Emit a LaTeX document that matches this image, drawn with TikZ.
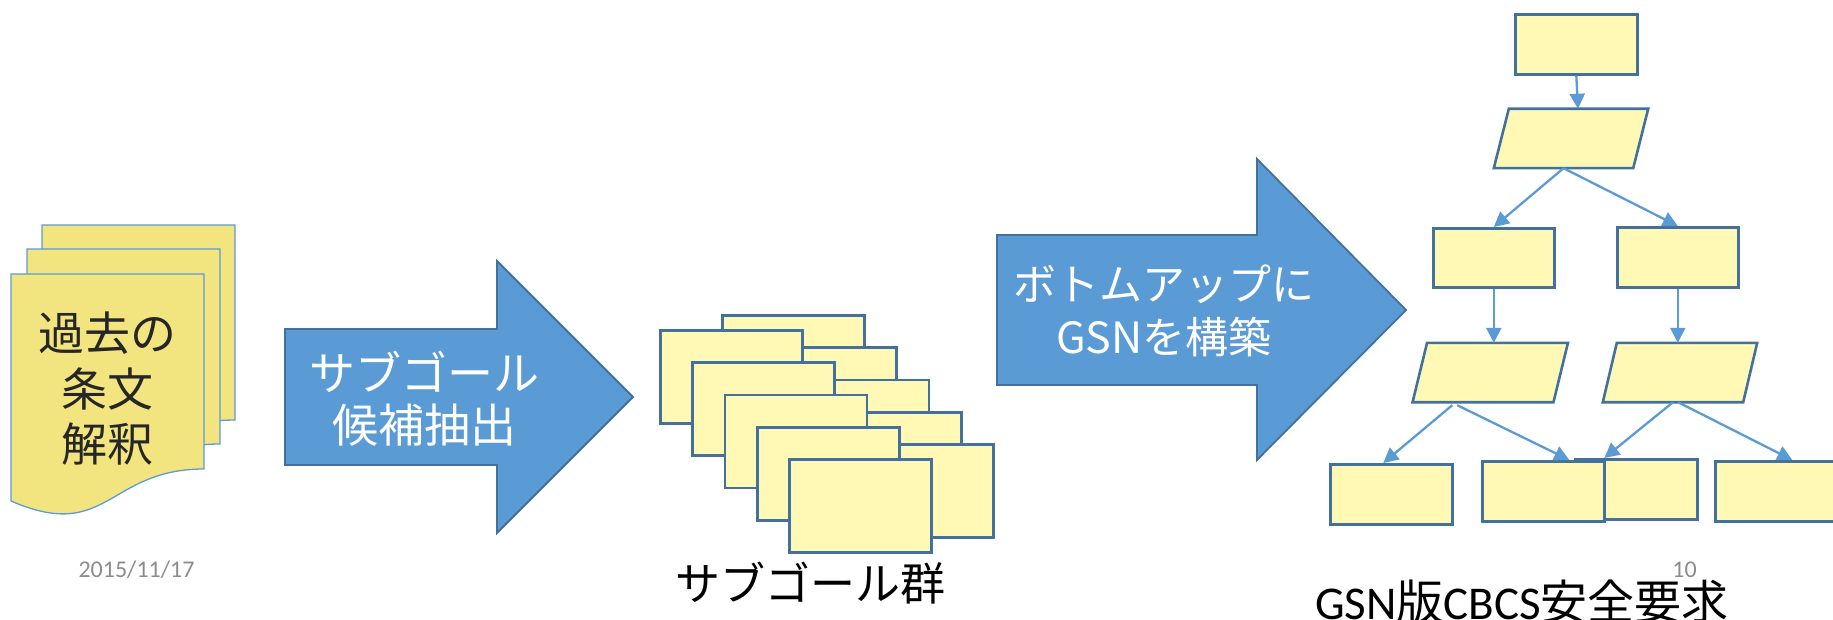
\documentclass[tikz,border=0pt]{standalone}
\usepackage{fontspec}
\newfontfamily\jpfont{Noto Sans CJK JP}
\newfontfamily\latfont{Carlito}
\usetikzlibrary{arrows.meta,calc}
\definecolor{accent}{HTML}{5B9BD5}
\definecolor{accentdk}{HTML}{41719C}
\definecolor{goalfill}{HTML}{FFF9B5}
\definecolor{docfill}{HTML}{F2E57F}
\definecolor{dategray}{HTML}{8C8C8C}
\definecolor{doctextc}{HTML}{262626}
\tikzset{
  docsheet/.style={fill=docfill,draw=accent,line width=1.3pt,line join=miter},
  bigarrow/.style={fill=accent,draw=accentdk,line width=1.8pt,line join=miter},
  goalbox/.style={rectangle,fill=goalfill,draw=accentdk,line width=2.6pt,inner sep=0pt,anchor=north west},
  paraslot/.style={rectangle,inner sep=0pt,minimum height=59pt},
  parashape/.style={fill=goalfill,draw=accentdk,line width=2.6pt,line join=miter},
  conn/.style={draw=accent,line width=2.3pt,-{Triangle[length=15pt,width=15pt]}},
  jptxt/.style={inner sep=0pt,align=center},
}
\newcommand\paranode[5]{% name, cx, cy, side, offset
  \node[paraslot,minimum width=#4pt] (#1) at (#2,#3) {};
  \path[parashape] ($(#1.north west)+(#5/2,0)$) -- ($(#1.north east)+(#5/2,0)$)
     -- ($(#1.south east)+(-#5/2,0)$) -- ($(#1.south west)+(-#5/2,0)$) -- cycle;
}
\begin{document}
\begin{tikzpicture}[x=1pt,y=-1pt]
\useasboundingbox (0,0) rectangle (1833,620);
\begin{scope}
\clip (0,0) rectangle (1833,620);

% ---- document stack ----
\path[docsheet] (42,225) -- (235,225) -- (235,420) .. controls (138.5,420) and (138.5,494) .. (42,452) -- cycle;
\path[docsheet] (27,249) -- (220,249) -- (220,444) .. controls (123.5,444) and (123.5,518) .. (27,476) -- cycle;
\path[docsheet] (11,274) -- (204,274) -- (204,469) .. controls (107.5,469) and (107.5,543) .. (11,501) -- cycle;
\node[jptxt,text=doctextc,font=\jpfont\fontsize{46pt}{55.5pt}\selectfont] (doctext) at (107,389) {過去の\\条文\\解釈};

% ---- arrow 1 ----
\path[bigarrow] (285,329) -- (497,329) -- (497,261) -- (633,397) -- (497,533) -- (497,465) -- (285,465) -- cycle;
\node[jptxt,text=white,font=\jpfont\fontsize{46pt}{52pt}\selectfont] (a1text) at (424,399) {サブゴール\\候補抽出};

% ---- sub-goal stack ----
\foreach \i in {0,...,4}{
  \node[goalbox,minimum width=142pt,minimum height=93pt] (sgr\i) at ({721+32.3*\i},{314+32.3*\i}) {};
}
\foreach \i in {0,...,4}{
  \node[goalbox,minimum width=142pt,minimum height=93pt] (sgl\i) at ({659+32.3*\i},{329+32.3*\i}) {};
}
\node[jptxt,font=\jpfont\fontsize{45pt}{50pt}\selectfont] (sgtext) at (810,583) {サブゴール群};

% ---- arrow 2 ----
\path[bigarrow] (997,235) -- (1257,235) -- (1257,159) -- (1406,310) -- (1257,460) -- (1257,385) -- (997,385) -- cycle;
\node[jptxt,text=white,font=\jpfont\fontsize{43pt}{53pt}\selectfont] (a2text) at (1164,311) {ボトムアップに\\GSNを構築};

% ---- GSN tree ----
\node[goalbox,minimum width=122pt,minimum height=60pt] (top) at (1514,13) {};
\paranode{p1}{1571}{138.5}{139}{15}
\node[goalbox,minimum width=121pt,minimum height=59pt] (l1) at (1432,227) {};
\node[goalbox,minimum width=121pt,minimum height=60pt] (r1) at (1616,226) {};
\paranode{l2}{1490.25}{372.5}{140.5}{14.5}
\paranode{r2}{1680}{372.5}{140}{14}
\node[goalbox,minimum width=122pt,minimum height=60pt] (b1) at (1329,463) {};
\node[goalbox,minimum width=122pt,minimum height=60pt] (b3) at (1574,458) {};
\node[goalbox,minimum width=122pt,minimum height=60pt] (b2) at (1481,460) {};
\node[goalbox,minimum width=124pt,minimum height=60pt] (b4) at (1714,460) {};

\draw[conn] (top.south) -- ($(p1.north)+(7,0)$);
\draw[conn] ($(p1.south)+(-7.5,0)$) -- (l1.north);
\draw[conn] ($(p1.south)+(-7.5,0)$) -- (r1.north);
\draw[conn] (l1.south) -- (l1.south |- l2.north);
\draw[conn] (r1.south) -- (r1.south |- r2.north);
\draw[conn] ($(l2.south)+(-38,3)$) -- ($(b1.north)+(-8,0)$);
\draw[conn] ($(l2.south)+(-33,3)$) -- ($(b2.north)+(26,0)$);
\draw[conn] ($(r2.south)+(-7,0)$) -- ($(b3.north)+(-32,0)$);
\draw[conn] ($(r2.south)+(-2,0)$) -- ($(b4.north)+(15,0)$);

% ---- captions ----
\node[inner sep=0pt,anchor=base,font=\fontsize{47pt}{50pt}\selectfont] (gsncap) at (1522,619)
  {\latfont GSN\jpfont 版\latfont CBCS\jpfont 安全要求};
\node[inner sep=0pt,anchor=base,text=dategray,font=\latfont\fontsize{24pt}{28pt}\selectfont] (date) at (136.5,577) {2015/11/17};
\node[inner sep=0pt,anchor=base,text=dategray,font=\latfont\fontsize{24pt}{28pt}\selectfont] (pagenum) at (1684.5,577) {10};
\end{scope}
\end{tikzpicture}
\end{document}
